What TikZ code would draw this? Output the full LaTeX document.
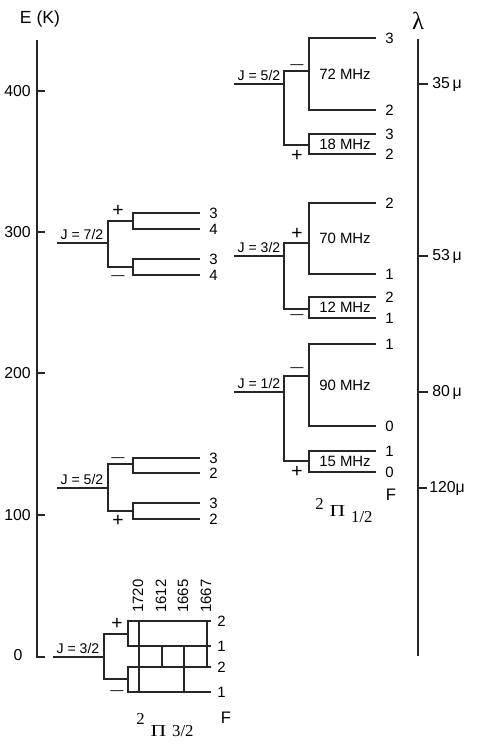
\documentclass[tikz,border=0pt]{standalone}
\usepackage{graphicx}
\usepackage{fontspec}
\setmainfont{Liberation Sans}
\newfontfamily\pifont{Liberation Serif}
\newcommand{\pls}{{\fontsize{11}{12}\selectfont\raisebox{-1.9pt}{+}}}
\newcommand{\mns}{{\fontsize{7.5}{9}\selectfont —}}
\newcommand{\bigpi}{\scalebox{1.3}[1]{Π}}

\begin{document}
\begin{tikzpicture}[x=0.02cm, y=-0.02cm,
        lvl/.style={line width=0.7pt, black!85},
        axis/.style={line width=1.3pt, black!85},
        tick/.style={line width=0.7pt, black!85},
        lbl/.style={font=\fontsize{8.5}{10}\selectfont, inner sep=0pt},
        flbl/.style={lbl, anchor=west},
        sgn/.style={lbl, anchor=base},
        jlbl/.style={font=\fontsize{8}{10}\selectfont, inner sep=1.5pt, above},
        ax/.style={font=\fontsize{9}{10}\selectfont, inner sep=0pt}]
    \useasboundingbox (0,0) rectangle (485,747);

    % energy axis
    \draw[axis] (37,40) -- (37,657) -- (45,657);
    \foreach \e/\y in {400/91, 300/232, 200/373, 100/515} {
            \draw[tick] (37,\y) -- (45,\y);
            \node[ax, anchor=east] (e\e) at (31,\y) {\e};
        }
    \node[ax] (e0) at (18,655) {0};
    \node[ax, font=\fontsize{10}{12}\selectfont] (eunit) at (40,19) {E (K)};

    % wavelength axis
    \draw[axis] (418,39) -- (418,656);
    \node[font=\fontsize{14}{16}\selectfont\pifont, inner sep=0pt] (lam) at (418,21) {λ};
    \foreach \w/\y in {35/84, 53/256, 80/392} {
            \draw[tick] (418,\y) -- (428,\y);
            \node[ax, anchor=west] (w\w) at (432,\y) {\w\,μ};
        }
    \draw[tick] (418,488) -- (427,488);
    \node[ax, anchor=west] (w120) at (429,488) {120μ};

    % 2Pi_1/2 ladder
    \foreach \y/\yu/\yl/\ua/\ub/\la/\lb/\jj/\sgnup/\ysgnup/\sgndn/\ysgndn/\mhzu/\mhzd/\fa/\fb/\fc/\fd [count=\i] in {
            84/71/145/38/110/134/154/5/\mns/65/\pls/155/72/18/3/2/3/2,
            256/243/309/203/274/297/318/3/\pls/233/\mns/315/70/12/2/1/2/1,
            392/376/461/344/426/451/472/1/\mns/368/\pls/471/90/15/1/0/1/0} {
            \draw[lvl] (234,\y) -- (284,\y);
            \draw[lvl] (309,\yu) -- (284,\yu) -- (284,\yl) -- (309,\yl);
            \draw[lvl] (376,\ua) -- (309,\ua) -- (309,\ub) -- (376,\ub);
            \draw[lvl] (376,\la) -- (309,\la) -- (309,\lb) -- (376,\lb);
            \node[jlbl] (jr\i) at (259,\y) {J = \jj/2};
            \node[sgn] (sur\i) at (297,\ysgnup+3.5) {\sgnup};
            \node[sgn] (sdr\i) at (297,\ysgndn+3.5) {\sgndn};
            \node[lbl] (mur\i) at (345,{(\ua+\ub)/2}) {\mhzu\ MHz};
            \node[lbl] (mdr\i) at (345,{(\la+\lb)/2}) {\mhzd\ MHz};
            \node[flbl] (far\i) at (385,\ua) {\fa};
            \node[flbl] (fbr\i) at (385,\ub) {\fb};
            \node[flbl] (fcr\i) at (385,\la) {\fc};
            \node[flbl] (fdr\i) at (385,\lb) {\fd};
        }
    \node[font=\fontsize{9.5}{11}\selectfont, inner sep=0pt] (fr) at (391,495) {F};
    \node[font=\fontsize{9.5}{11}\selectfont\pifont, inner sep=0pt, anchor=base] (pir) at (344,516)
    {\raisebox{3.5pt}{2}\hspace{0.35em}\bigpi\hspace{0.35em}\raisebox{-3.5pt}{1/2}};

    % 2Pi_3/2 ladder
    \foreach \y/\yu/\yl/\ua/\ub/\la/\lb/\jj/\sgnup/\ysgnup/\sgndn/\ysgndn/\fa/\fb/\fc/\fd [count=\i] in {
            243/221/267/213/229/259/275/7/\pls/210/\mns/276/3/4/3/4,
            488/464/511/458/473/503/519/5/\mns/458/\pls/520/3/2/3/2} {
            \draw[lvl] (57,\y) -- (108,\y);
            \draw[lvl] (133,\yu) -- (108,\yu) -- (108,\yl) -- (133,\yl);
            \draw[lvl] (200,\ua) -- (133,\ua) -- (133,\ub) -- (200,\ub);
            \draw[lvl] (200,\la) -- (133,\la) -- (133,\lb) -- (200,\lb);
            \node[jlbl] (jl\i) at (82,\y) {J = \jj/2};
            \node[sgn] (sul\i) at (118,\ysgnup+3.5) {\sgnup};
            \node[sgn] (sdl\i) at (118,\ysgndn+3.5) {\sgndn};
            \node[flbl] (fal\i) at (209,\ua) {\fa};
            \node[flbl] (fbl\i) at (209,\ub) {\fb};
            \node[flbl] (fcl\i) at (209,\la) {\fc};
            \node[flbl] (fdl\i) at (209,\lb) {\fd};
        }

    % ground state with the OH lines
    \draw[lvl] (53,657) -- (104,657);
    \draw[lvl] (128,634) -- (104,634) -- (104,679) -- (128,679);
    \draw[lvl] (211,621) -- (128,621) -- (128,646) -- (211,646);
    \draw[lvl] (211,667) -- (128,667) -- (128,692) -- (211,692);
    \node[jlbl] (jl3) at (78,657) {J = 3/2};
    \node[sgn] (sul3) at (117,626.5) {\pls};
    \node[sgn] (sdl3) at (117,694.5) {\mns};
    \foreach \f/\y in {2/621, 1/646, 2/667, 1/692} {
            \node[flbl] (g\y) at (217,\y) {\f};
        }
    \foreach \x/\ya/\yb/\nu in {139/621/692/1720, 162/646/667/1612, 184/646/692/1665, 207/621/667/1667} {
            \draw[lvl] (\x,\ya) -- (\x,\yb);
            \node[lbl, rotate=90, anchor=west] (t\nu) at (\x-1,613) {\nu};
        }
    \node[font=\fontsize{9.5}{11}\selectfont, inner sep=0pt] (fl) at (226,718) {F};
    \node[font=\fontsize{9.5}{11}\selectfont\pifont, inner sep=0pt, anchor=base] (pil) at (165,736)
    {\raisebox{6.5pt}{2}\hspace{0.35em}\bigpi\hspace{0.35em}\raisebox{-0.5pt}{3/2}};
\end{tikzpicture}
\end{document}
